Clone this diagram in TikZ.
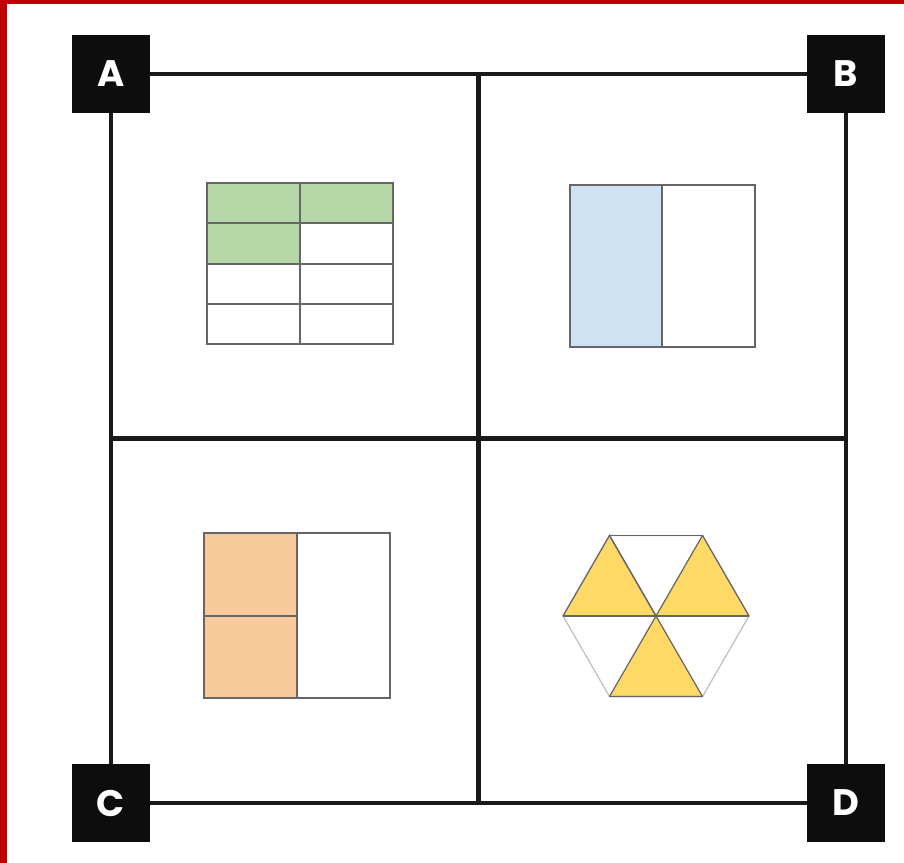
\documentclass[tikz,border=0pt]{standalone}
\usepackage{fontspec}
\setsansfont{Poppins}
\usetikzlibrary{calc}
\definecolor{cadre}{HTML}{C00000}
\definecolor{vert}{HTML}{B6D7A8}
\definecolor{bleu}{HTML}{CFE2F3}
\definecolor{orange}{HTML}{F9CB9C}
\definecolor{jaune}{HTML}{FFD966}
\tikzset{
  coin/.style={fill=black!95, text=white, minimum size=1.56cm, inner sep=0pt,
    font=\sffamily\bfseries\fontsize{21}{21}\selectfont},
  trait/.style={line width=2.3pt, black!90},
  case/.style={draw=black!60, line width=0.7pt}
}
\begin{document}
\begin{tikzpicture}[x=0.02cm, y=-0.02cm]
  % Cadre et bordure rouge
  \useasboundingbox (0,0) rectangle (904,863);
  \fill[white] (0,0) rectangle (904,863);
  \fill[cadre] (0,0) rectangle (7,863);
  \fill[cadre] (0,0) rectangle (904,4);
  % Coins
  \node[coin] (A) at (111,74)  {A};
  \node[coin] (B) at (846,74)  {B};
  \node[coin] (C) at (111,803) {C};
  \node[coin] (D) at (846,803) {D};
  % Bords et croix centrale
  \draw[trait] (A) -- (B);
  \draw[trait] (C) -- (D);
  \draw[trait] (A) -- (C);
  \draw[trait] (B) -- (D);
  \coordinate (haut) at ($(A)!0.5!(B)$);
  \coordinate (bas) at ($(C)!0.5!(D)$);
  \coordinate (gauche) at ($(A)!0.5!(C)$);
  \coordinate (droite) at ($(B)!0.5!(D)$);
  \draw[trait] (haut) -- (bas);
  \draw[trait] (gauche) -- (droite);
  % Carre A : grille 2 x 4, trois cases vertes
  \fill[vert] (207,183) rectangle (393,223);
  \fill[vert] (207,223) rectangle (300,264);
  \foreach \y in {223,264,304} {
    \draw[case] (207,\y) -- (393,\y);
  }
  \draw[case] (300,183) -- (300,344);
  \draw[case] (207,183) rectangle (393,344);
  % Carre B : moitie bleue
  \fill[bleu] (570,185) rectangle (662,347);
  \draw[case] (662,185) -- (662,347);
  \draw[case] (570,185) rectangle (755,347);
  % Carre C : deux quarts orange
  \fill[orange] (204,533) rectangle (297,698);
  \draw[case] (204,616) -- (297,616);
  \draw[case] (297,533) -- (297,698);
  \draw[case] (204,533) rectangle (390,698);
  % Carre D : hexagone, trois triangles jaunes
  \coordinate (O) at (656,616);
  \foreach \a/\n in {0/1, 60/2, 120/3, 180/4, 240/5, 300/6} {
    \coordinate (h\n) at ($(O)+(\a:93)$);
  }
  \fill[jaune] (O) -- (h4) -- (h5) -- cycle;
  \fill[jaune] (O) -- (h6) -- (h1) -- cycle;
  \fill[jaune] (O) -- (h2) -- (h3) -- cycle;
  \draw[black!25, line width=0.7pt] (h1) -- (h2) -- (h3) -- (h4) -- (h5) -- (h6) -- cycle;
  \draw[case] (h1) -- (h4);
  \draw[case] (h2) -- (h5);
  \draw[case] (h3) -- (h6);
  \draw[case] (h4) -- (h5) -- (O) (h6) -- (h1) (h2) -- (h3);
  \draw[case] (h5) -- (h6);
\end{tikzpicture}
\end{document}
